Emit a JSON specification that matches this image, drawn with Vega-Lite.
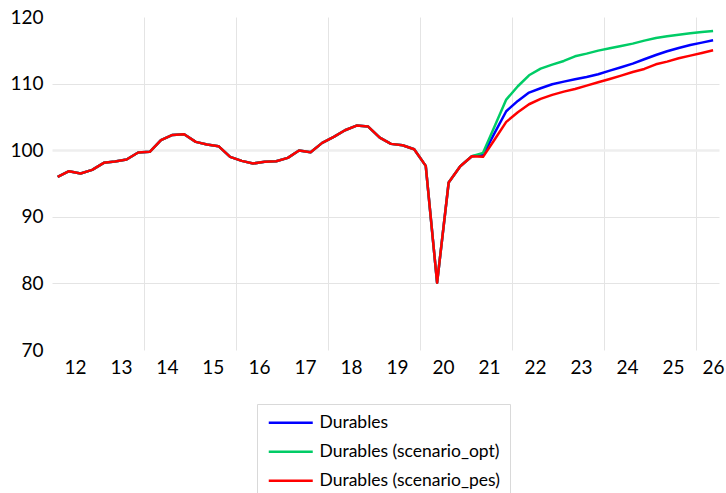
{
  "$schema": "https://vega.github.io/schema/vega-lite/v6.json",
  "autosize": {"type": "none"},
  "width": 667,
  "height": 333,
  "padding": {"left": 52, "top": 17, "right": 7, "bottom": 143},
  "background": "white",
  "config": {
    "view": {"stroke": null},
    "font": "Lato"
  },
  "data": {
    "values": [
      {"date": "2012-02-15", "base": 96.0, "opt": 96.0, "pes": 96.0},
      {"date": "2012-05-15", "base": 96.85, "opt": 96.85, "pes": 96.85},
      {"date": "2012-08-15", "base": 96.5, "opt": 96.5, "pes": 96.5},
      {"date": "2012-11-15", "base": 97.05, "opt": 97.05, "pes": 97.05},
      {"date": "2013-02-15", "base": 98.1, "opt": 98.1, "pes": 98.1},
      {"date": "2013-05-15", "base": 98.3, "opt": 98.3, "pes": 98.3},
      {"date": "2013-08-15", "base": 98.6, "opt": 98.6, "pes": 98.6},
      {"date": "2013-11-15", "base": 99.65, "opt": 99.65, "pes": 99.65},
      {"date": "2014-02-15", "base": 99.75, "opt": 99.75, "pes": 99.75},
      {"date": "2014-05-15", "base": 101.5, "opt": 101.5, "pes": 101.5},
      {"date": "2014-08-15", "base": 102.3, "opt": 102.3, "pes": 102.3},
      {"date": "2014-11-15", "base": 102.4, "opt": 102.4, "pes": 102.4},
      {"date": "2015-02-15", "base": 101.25, "opt": 101.25, "pes": 101.25},
      {"date": "2015-05-15", "base": 100.85, "opt": 100.85, "pes": 100.85},
      {"date": "2015-08-15", "base": 100.6, "opt": 100.6, "pes": 100.6},
      {"date": "2015-11-15", "base": 99.0, "opt": 99.0, "pes": 99.0},
      {"date": "2016-02-15", "base": 98.4, "opt": 98.4, "pes": 98.4},
      {"date": "2016-05-15", "base": 98.0, "opt": 98.0, "pes": 98.0},
      {"date": "2016-08-15", "base": 98.25, "opt": 98.25, "pes": 98.25},
      {"date": "2016-11-15", "base": 98.35, "opt": 98.35, "pes": 98.35},
      {"date": "2017-02-15", "base": 98.85, "opt": 98.85, "pes": 98.85},
      {"date": "2017-05-15", "base": 99.95, "opt": 99.95, "pes": 99.95},
      {"date": "2017-08-15", "base": 99.7, "opt": 99.7, "pes": 99.7},
      {"date": "2017-11-15", "base": 101.1, "opt": 101.1, "pes": 101.1},
      {"date": "2018-02-15", "base": 102.0, "opt": 102.0, "pes": 102.0},
      {"date": "2018-05-15", "base": 103.0, "opt": 103.0, "pes": 103.0},
      {"date": "2018-08-15", "base": 103.7, "opt": 103.7, "pes": 103.7},
      {"date": "2018-11-15", "base": 103.55, "opt": 103.55, "pes": 103.55},
      {"date": "2019-02-15", "base": 101.9, "opt": 101.9, "pes": 101.9},
      {"date": "2019-05-15", "base": 100.95, "opt": 100.95, "pes": 100.95},
      {"date": "2019-08-15", "base": 100.75, "opt": 100.75, "pes": 100.75},
      {"date": "2019-11-15", "base": 100.15, "opt": 100.15, "pes": 100.15},
      {"date": "2020-02-15", "base": 97.65, "opt": 97.65, "pes": 97.65},
      {"date": "2020-05-15", "base": 80.1, "opt": 80.1, "pes": 80.1},
      {"date": "2020-08-15", "base": 95.15, "opt": 95.15, "pes": 95.15},
      {"date": "2020-11-15", "base": 97.6, "opt": 97.6, "pes": 97.6},
      {"date": "2021-02-15", "base": 99.1, "opt": 99.1, "pes": 99.1},
      {"date": "2021-05-15", "base": 99.3, "opt": 99.6, "pes": 99.0},
      {"date": "2021-08-15", "base": 102.6, "opt": 103.6, "pes": 101.6},
      {"date": "2021-11-15", "base": 105.85, "opt": 107.6, "pes": 104.25},
      {"date": "2022-02-15", "base": 107.4, "opt": 109.6, "pes": 105.7},
      {"date": "2022-05-15", "base": 108.65, "opt": 111.25, "pes": 106.9},
      {"date": "2022-08-15", "base": 109.3, "opt": 112.25, "pes": 107.7},
      {"date": "2022-11-15", "base": 109.9, "opt": 112.85, "pes": 108.3},
      {"date": "2023-02-15", "base": 110.3, "opt": 113.4, "pes": 108.8},
      {"date": "2023-05-15", "base": 110.65, "opt": 114.1, "pes": 109.2},
      {"date": "2023-08-15", "base": 111.0, "opt": 114.5, "pes": 109.7},
      {"date": "2023-11-15", "base": 111.4, "opt": 114.95, "pes": 110.2},
      {"date": "2024-02-15", "base": 111.95, "opt": 115.3, "pes": 110.7},
      {"date": "2024-05-15", "base": 112.45, "opt": 115.65, "pes": 111.2},
      {"date": "2024-08-15", "base": 113.0, "opt": 116.0, "pes": 111.75},
      {"date": "2024-11-15", "base": 113.65, "opt": 116.45, "pes": 112.2},
      {"date": "2025-02-15", "base": 114.3, "opt": 116.85, "pes": 112.9},
      {"date": "2025-05-15", "base": 114.85, "opt": 117.1, "pes": 113.3},
      {"date": "2025-08-15", "base": 115.35, "opt": 117.35, "pes": 113.8},
      {"date": "2025-11-15", "base": 115.8, "opt": 117.55, "pes": 114.2},
      {"date": "2026-02-15", "base": 116.15, "opt": 117.75, "pes": 114.6},
      {"date": "2026-05-15", "base": 116.5, "opt": 117.9, "pes": 115.0}
    ]
  },
  "transform": [
    {"fold": ["base", "opt", "pes"], "as": ["series", "value"]}
  ],
  "mark": {"type": "line", "strokeWidth": 2.5, "strokeJoin": "round"},
  "encoding": {
    "x": {
      "field": "date",
      "type": "temporal",
      "scale": {
        "type": "utc",
        "domain": [
          {"year": 2012, "month": 1, "date": 1, "utc": true},
          {"year": 2026, "month": 7, "date": 1, "utc": true}
        ]
      },
      "axis": {
        "title": null,
        "domain": false,
        "ticks": false,
        "tickSize": 0,
        "labelPadding": 8,
        "labelFont": "Lato",
        "labelFontSize": 19,
        "labelColor": "#000000",
        "labelBaseline": "top",
        "labelAlign": "center",
        "labelOverlap": false,
        "labelFlush": false,
        "values": [
          {"year": 2012, "month": 7, "date": 1, "utc": true},
          {"year": 2013, "month": 7, "date": 1, "utc": true},
          {"year": 2014, "month": 1, "date": 1, "utc": true},
          {"year": 2014, "month": 7, "date": 1, "utc": true},
          {"year": 2015, "month": 7, "date": 1, "utc": true},
          {"year": 2016, "month": 1, "date": 1, "utc": true},
          {"year": 2016, "month": 7, "date": 1, "utc": true},
          {"year": 2017, "month": 7, "date": 1, "utc": true},
          {"year": 2018, "month": 1, "date": 1, "utc": true},
          {"year": 2018, "month": 7, "date": 1, "utc": true},
          {"year": 2019, "month": 7, "date": 1, "utc": true},
          {"year": 2020, "month": 1, "date": 1, "utc": true},
          {"year": 2020, "month": 7, "date": 1, "utc": true},
          {"year": 2021, "month": 7, "date": 1, "utc": true},
          {"year": 2022, "month": 1, "date": 1, "utc": true},
          {"year": 2022, "month": 7, "date": 1, "utc": true},
          {"year": 2023, "month": 7, "date": 1, "utc": true},
          {"year": 2024, "month": 1, "date": 1, "utc": true},
          {"year": 2024, "month": 7, "date": 1, "utc": true},
          {"year": 2025, "month": 7, "date": 1, "utc": true},
          {"year": 2026, "month": 1, "date": 1, "utc": true},
          {"year": 2026, "month": 5, "date": 15, "utc": true}
        ],
        "labelExpr": "utcmonth(datum.value) === 0 ? '' : utcFormat(datum.value, '%y')",
        "grid": true,
        "gridColor": "#e4e4e4",
        "gridWidth": 1,
        "gridOpacity": {"condition": {"test": "utcmonth(datum.value) === 0", "value": 1}, "value": 0}
      }
    },
    "y": {
      "field": "value",
      "type": "quantitative",
      "scale": {"domain": [70, 120], "nice": false, "zero": false},
      "axis": {
        "title": null,
        "domain": false,
        "ticks": false,
        "tickSize": 0,
        "values": [70, 80, 90, 100, 110, 120],
        "labelPadding": 9,
        "labelFont": "Lato",
        "labelFontSize": 19,
        "labelColor": "#000000",
        "labelFlush": false,
        "labelOverlap": false,
        "grid": true,
        "gridColor": {"condition": {"test": "datum.value === 100", "value": "#eeeeee"}, "value": "#e4e4e4"},
        "gridWidth": {"condition": {"test": "datum.value === 100", "value": 2.5}, "value": 1},
        "gridOpacity": {"condition": {"test": "datum.value === 70 || datum.value === 120", "value": 0}, "value": 1}
      }
    },
    "color": {
      "field": "series",
      "type": "nominal",
      "scale": {"domain": ["base", "opt", "pes"], "range": ["#0000ff", "#00cc66", "#ff0000"]},
      "legend": {
        "title": null,
        "orient": "none",
        "legendX": 205,
        "legendY": 387,
        "direction": "vertical",
        "strokeColor": "#d9d9d9",
        "padding": 10,
        "symbolType": "M-4,0H4",
        "symbolSize": 121,
        "symbolStrokeWidth": 2.5,
        "symbolOffset": 15,
        "labelFont": "Lato",
        "labelFontSize": 17.5,
        "labelColor": "#000000",
        "labelOffset": 20,
        "labelLimit": 400,
        "rowPadding": 10,
        "labelExpr": "datum.label === 'base' ? 'Durables' : datum.label === 'opt' ? 'Durables (scenario_opt)' : 'Durables (scenario_pes)'"
      }
    }
  }
}
